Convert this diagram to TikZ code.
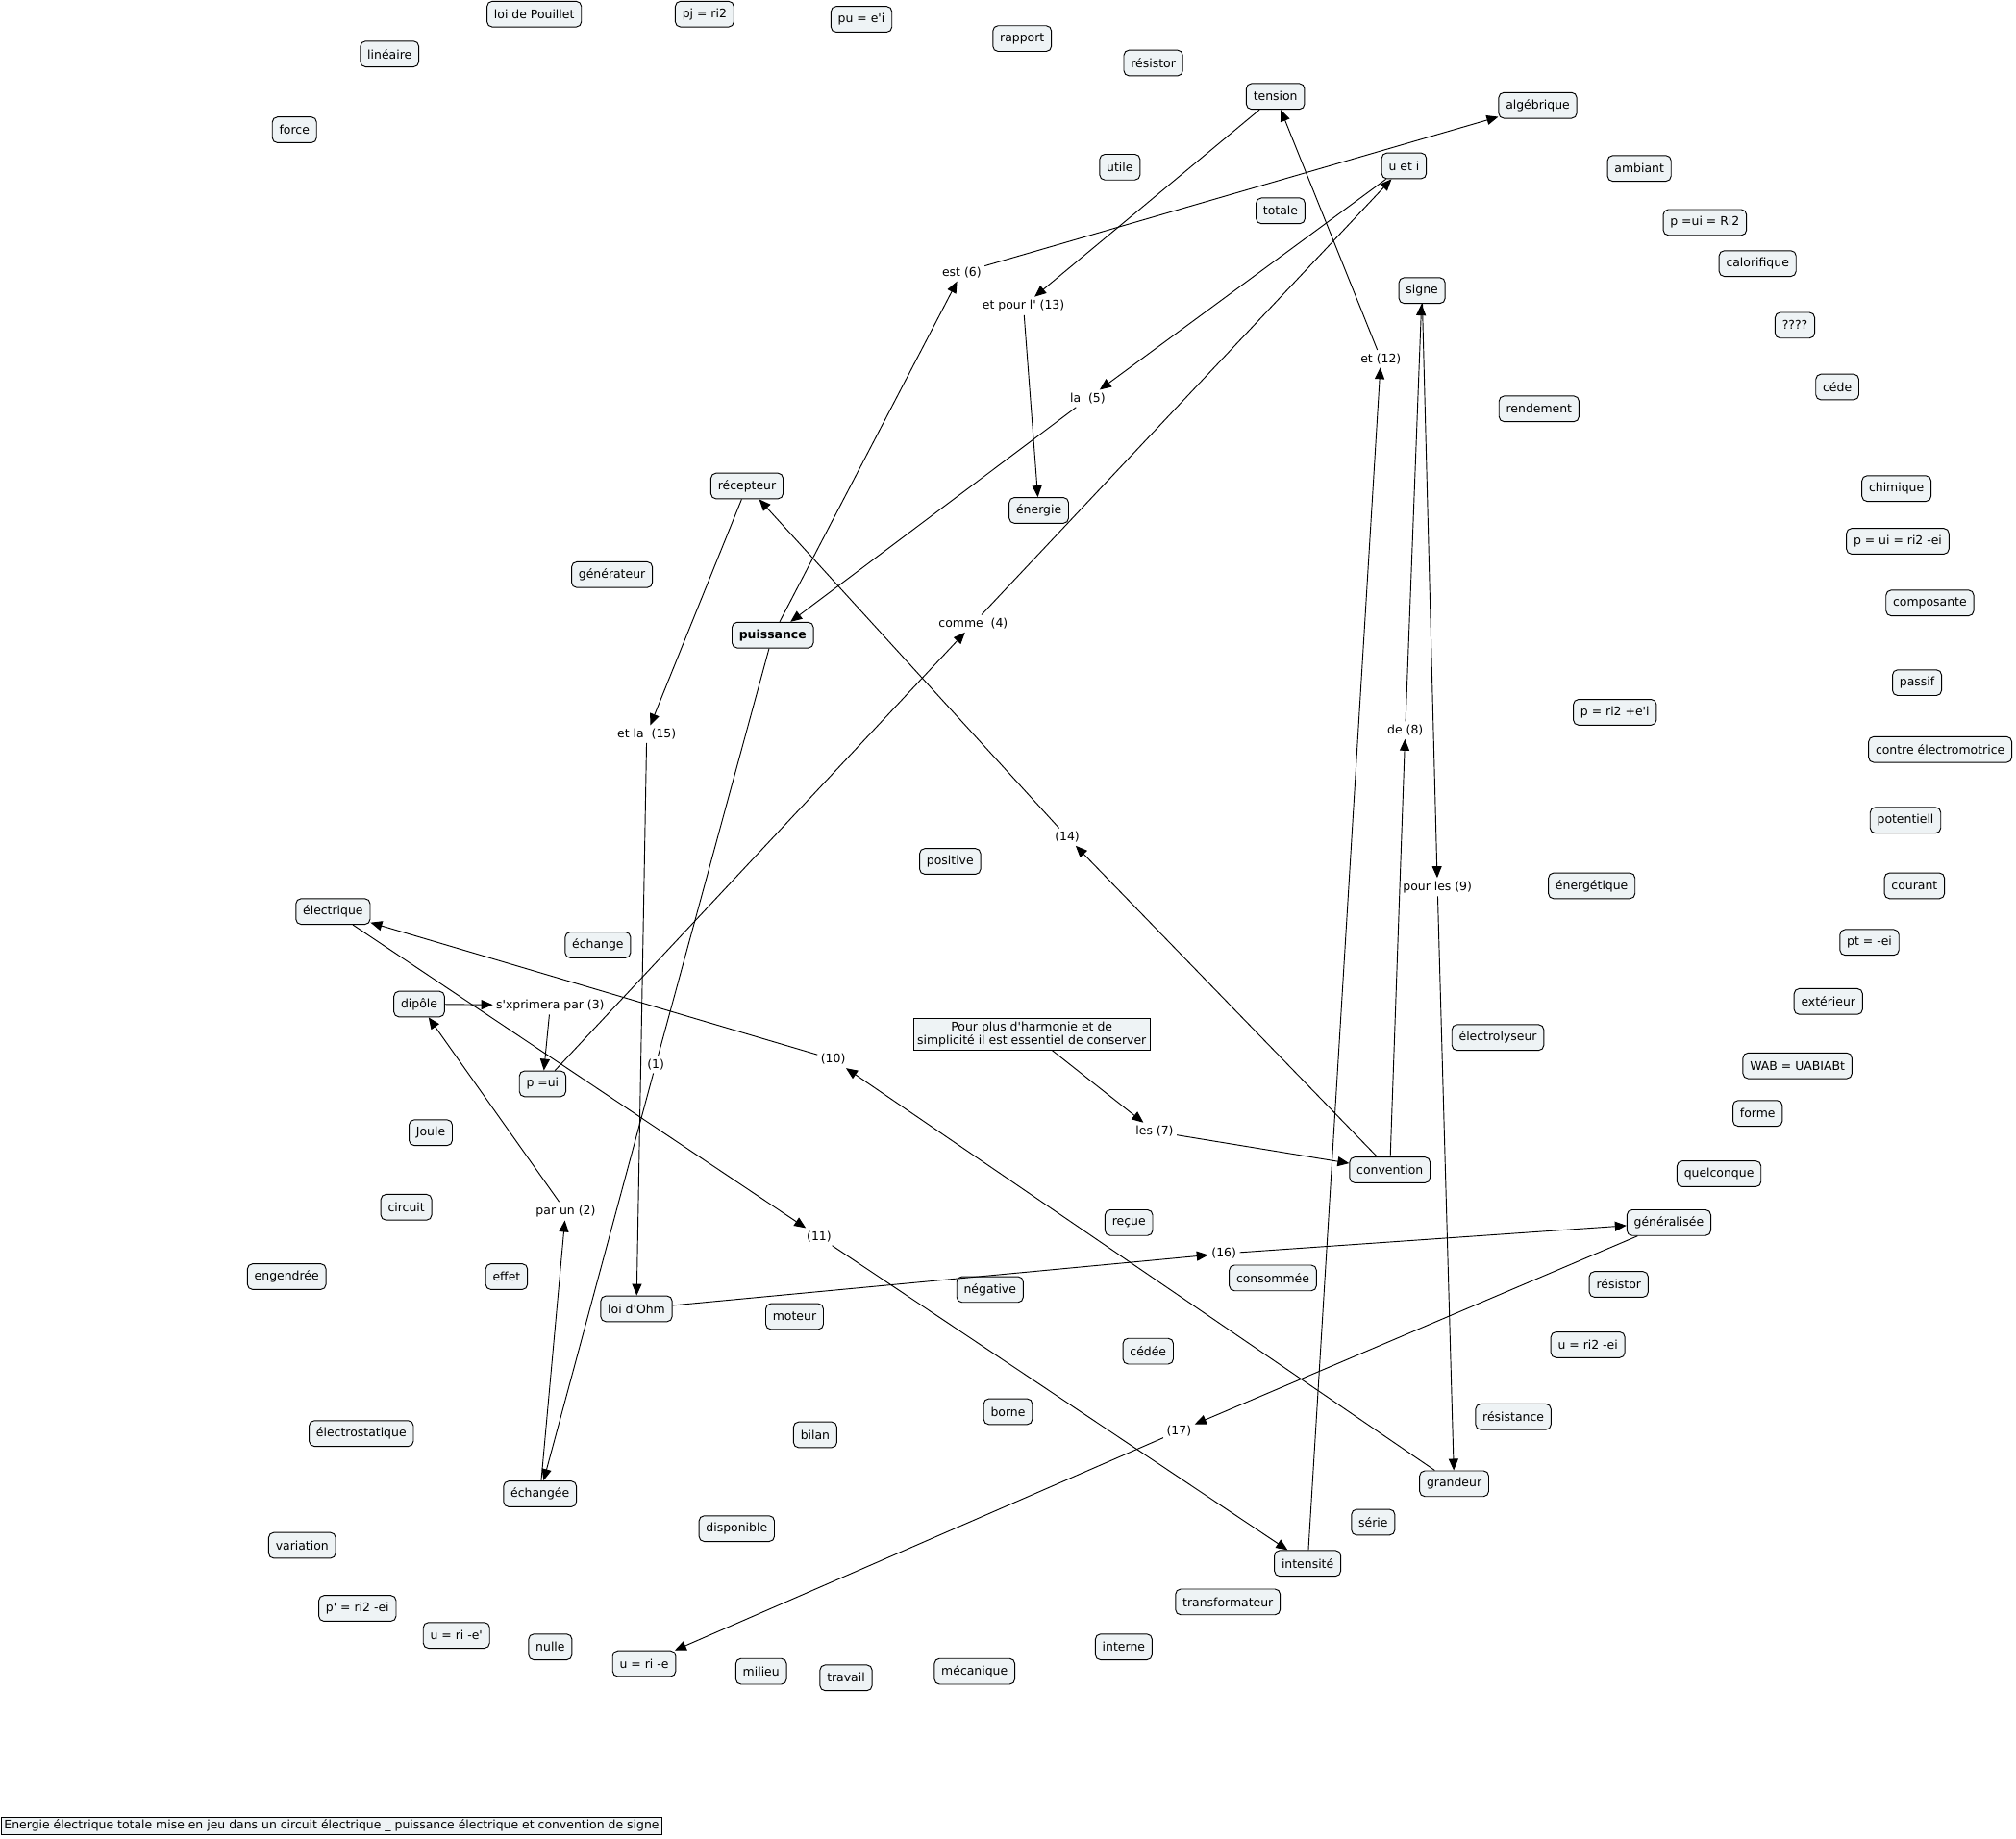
\documentclass[tikz,border=0pt]{standalone}
\usepackage{fontspec}
\setmainfont{DejaVu Sans}[Ligatures=TeXOff]
\usetikzlibrary{arrows.meta}
\definecolor{cfill}{RGB}{238,243,245}
\begin{document}
\begin{tikzpicture}[x=1pt,y=-1pt,
  concept/.style={draw=black, fill=cfill, rounded corners=4pt, line width=0.7pt, inner xsep=5.5pt, inner ysep=0pt, minimum height=20pt, font=\fontsize{9.3}{11}\selectfont},
  linkp/.style={inner sep=2.5pt, font=\fontsize{9.3}{11}\selectfont},
  conn/.style={line width=0.7pt},
  arr/.style={conn, -{Triangle[length=9pt,width=7.5pt]}}
]
\useasboundingbox (0,0) rectangle (1568,1430);

% concepts
\node[concept] (pouillet) at (415.5,11) {loi de Pouillet};
\node[concept] (pj) at (548,11) {pj = ri2};
\node[concept] (pu) at (670,15) {pu = e'i};
\node[concept] (lineaire) at (303,42) {linéaire};
\node[concept] (rapport) at (795,30) {rapport};
\node[concept] (resistorA) at (897,49) {résistor};
\node[concept] (force) at (229,101) {force};
\node[concept] (tension) at (992,75) {tension};
\node[concept] (algebrique) at (1196,82) {algébrique};
\node[concept] (utile) at (871,130) {utile};
\node[concept] (uei) at (1092,129) {u et i};
\node[concept] (ambiant) at (1275,131) {ambiant};
\node[concept] (totale) at (996,164) {totale};
\node[concept] (puiRi) at (1326,173) {p =ui = Ri2};
\node[concept] (calorifique) at (1367,205) {calorifique};
\node[concept] (signe) at (1106,226) {signe};
\node[concept] (qqqq) at (1396,253) {????};
\node[concept] (cede) at (1429,301) {céde};
\node[concept] (rendement) at (1197,318) {rendement};
\node[concept] (recepteur) at (581,378) {récepteur};
\node[concept] (energie) at (808,397) {énergie};
\node[concept] (chimique) at (1475,380) {chimique};
\node[concept] (puiriei) at (1476,421) {p = ui = ri2 -ei};
\node[concept] (generateur) at (476,447) {générateur};
\node[concept] (composante) at (1501,469) {composante};
\node[concept, font=\fontsize{9.3}{11}\selectfont\bfseries] (puissance) at (601,494) {puissance};
\node[concept] (passif) at (1491,531) {passif};
\node[concept] (pri2ei) at (1256,554) {p = ri2 +e'i};
\node[concept] (contre) at (1509,583) {contre électromotrice};
\node[concept] (potentiell) at (1482,638) {potentiell};
\node[concept] (positive) at (739,670) {positive};
\node[concept] (courant) at (1489,689) {courant};
\node[concept] (energetique) at (1238,689) {énergétique};
\node[concept] (electrique) at (259,709) {électrique};
\node[concept] (echange) at (465,735) {échange};
\node[concept] (ptei) at (1454,733) {pt = -ei};
\node[concept] (dipole) at (326,781) {dipôle};
\node[concept] (exterieur) at (1422,779) {extérieur};
\node[concept] (electrolyseur) at (1165,807) {électrolyseur};
\node[concept] (wab) at (1398,829) {WAB = UABIABt};
\node[concept] (pui) at (422,843) {p =ui};
\node[concept] (forme) at (1367,866) {forme};
\node[concept] (joule) at (335,881) {Joule};
\node[concept] (convention) at (1081,910) {convention};
\node[concept] (quelconque) at (1337,913) {quelconque};
\node[concept] (circuit) at (316,939) {circuit};
\node[concept] (recue) at (878,951) {reçue};
\node[concept] (generalisee) at (1298,951) {généralisée};
\node[concept] (engendree) at (223,993) {engendrée};
\node[concept] (effet) at (394,993) {effet};
\node[concept] (consommee) at (990,994) {consommée};
\node[concept] (negative) at (770,1003) {négative};
\node[concept] (resistorB) at (1259,999) {résistor};
\node[concept] (ohm) at (495,1018) {loi d'Ohm};
\node[concept] (moteur) at (618,1024) {moteur};
\node[concept] (uri2ei) at (1235,1046) {u = ri2 -ei};
\node[concept] (cedee) at (893,1051) {cédée};
\node[concept] (borne) at (784,1098) {borne};
\node[concept] (resistance) at (1177,1102) {résistance};
\node[concept] (electrostatique) at (281,1115) {électrostatique};
\node[concept] (bilan) at (634,1116) {bilan};
\node[concept] (grandeur) at (1131,1154) {grandeur};
\node[concept] (echangee) at (420,1162) {échangée};
\node[concept] (serie) at (1068,1184) {série};
\node[concept] (disponible) at (573,1189) {disponible};
\node[concept] (variation) at (235,1202) {variation};
\node[concept] (intensite) at (1017,1216) {intensité};
\node[concept] (transformateur) at (955,1246) {transformateur};
\node[concept] (ppri) at (278,1251) {p' = ri2 -ei};
\node[concept] (urie1) at (355,1272) {u = ri -e'};
\node[concept] (nulle) at (428,1281) {nulle};
\node[concept] (interne) at (874,1281) {interne};
\node[concept] (urie) at (501,1294) {u = ri -e};
\node[concept] (milieu) at (592,1300) {milieu};
\node[concept] (travail) at (658,1305) {travail};
\node[concept] (mecanique) at (758,1300) {mécanique};

% comment and title
\node[draw=black, fill=cfill, line width=0.7pt, align=center, inner xsep=3pt, inner ysep=2pt, font=\fontsize{9.3}{11}\selectfont] (comment) at (802.5,804.5) {Pour plus d'harmonie et de\\simplicité il est essentiel de conserver};
\node[draw=black, fill=cfill, line width=0.7pt, anchor=west, inner xsep=2pt, inner ysep=2pt, font=\fontsize{9.3}{10}\selectfont] (title) at (1,1420) {Energie électrique totale mise en jeu dans un circuit électrique \_ puissance électrique et convention de signe};

% linking phrases
\node[linkp] (est6) at (748,212) {est (6)};
\node[linkp] (etpour13) at (796,238) {et pour l' (13)};
\node[linkp] (la5) at (846,310) {la~ (5)};
\node[linkp] (comme4) at (757,485) {comme~ (4)};
\node[linkp] (etla15) at (503,571) {et la~ (15)};
\node[linkp] (et12) at (1074,279) {et (12)};
\node[linkp] (de8) at (1093,568) {de (8)};
\node[linkp] (pourles9) at (1118,690) {pour les (9)};
\node[linkp] (l14) at (830,651) {(14)};
\node[linkp] (sx3) at (428,782) {s'xprimera par (3)};
\node[linkp] (l1) at (510,828) {(1)};
\node[linkp] (l10) at (648,824) {(10)};
\node[linkp] (les7) at (898,880) {les (7)};
\node[linkp] (parun2) at (440,942) {par un (2)};
\node[linkp] (l11) at (637,962) {(11)};
\node[linkp] (l16) at (952,975) {(16)};
\node[linkp] (l17) at (917,1113) {(17)};

% connections
\draw[arr] (puissance) -- (est6);
\draw[arr] (est6) -- (algebrique);
\draw[arr] (tension) -- (etpour13);
\draw[arr] (etpour13) -- (energie);
\draw[arr] (uei) -- (la5);
\draw[arr] (la5) -- (puissance);
\draw[arr] (pui) -- (comme4);
\draw[arr] (comme4) -- (uei);
\draw[arr] (recepteur) -- (etla15);
\draw[arr] (etla15) -- (ohm);
\draw[conn] (puissance) -- (l1);
\draw[arr] (l1) -- (echangee);
\draw[arr] (dipole) -- (sx3);
\draw[arr] (sx3) -- (pui);
\draw[arr] (echangee) -- (parun2);
\draw[arr] (parun2) -- (dipole);
\draw[arr] (grandeur) -- (l10);
\draw[arr] (l10) -- (electrique);
\draw[arr] (electrique) -- (l11);
\draw[arr] (l11) -- (intensite);
\draw[arr] (intensite) -- (et12);
\draw[arr] (et12) -- (tension);
\draw[arr] (convention) -- (de8);
\draw[arr] (de8) -- (signe);
\draw[arr] (signe) -- (pourles9);
\draw[arr] (pourles9) -- (grandeur);
\draw[arr] (convention) -- (l14);
\draw[arr] (l14) -- (recepteur);
\draw[arr] (comment) -- (les7);
\draw[arr] (les7) -- (convention);
\draw[arr] (ohm) -- (l16);
\draw[arr] (l16) -- (generalisee);
\draw[arr] (generalisee) -- (l17);
\draw[arr] (l17) -- (urie);
\end{tikzpicture}
\end{document}
